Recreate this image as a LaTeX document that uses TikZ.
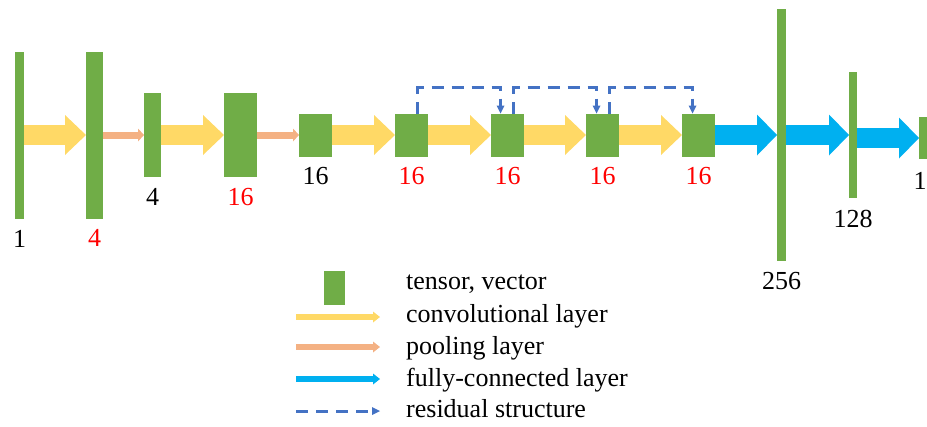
\documentclass[tikz,border=0pt]{standalone}
\usepackage{fontspec}
\setmainfont{Liberation Serif}
\definecolor{verde}{RGB}{112,173,71}
\definecolor{amarillo}{RGB}{255,217,102}
\definecolor{salmon}{RGB}{244,177,131}
\definecolor{celeste}{RGB}{0,176,240}
\definecolor{azulres}{RGB}{68,114,196}
\usetikzlibrary{arrows.meta,positioning}

\begin{document}
\begin{tikzpicture}[
  x=1pt, y=1pt,
  every node/.style={font=\fontsize{26}{31}\selectfont\rmfamily},
  tensor/.style={
    rectangle, fill=verde,
    inner sep=0pt, outer sep=0pt},
  dim/.style={inner sep=0pt},
  dimrojo/.style={dim, text=red},
  texto/.style={inner sep=0pt, anchor=base west},
  conv/.style={
    draw=amarillo, line width=20pt,
    -{Triangle[length=21pt,width=40pt,line width=0pt]}},
  pool/.style={
    draw=salmon, line width=7pt,
    -{Triangle[length=6pt,width=13pt,line width=0pt]}},
  fc/.style={
    draw=celeste, line width=20pt,
    -{Triangle[length=20pt,width=41pt,line width=0pt]}},
  resid/.style={
    draw=azulres, line width=3pt,
    dash pattern=on 12pt off 8pt,
    -{Triangle[length=8pt,width=8pt,line width=0pt]}},
  leyenda/.style={
    line width=6pt,
    -{Triangle[length=7pt,width=11pt,line width=0pt]}}
]
  \useasboundingbox (0,0) rectangle (927,-426);

  %% -- Tensores -------------------------------------------------
  \node[tensor, minimum width=9pt, minimum height=167pt] (T1) at (19.5,-135) {};
  \node[tensor, minimum width=17pt, minimum height=167pt, right=62pt of T1] (T2) {};
  \node[tensor, minimum width=17pt, minimum height=84pt, right=41pt of T2] (T3) {};
  \node[tensor, minimum width=33pt, minimum height=84pt, right=63pt of T3] (T4) {};
  \node[tensor, minimum width=33pt, minimum height=43pt, right=42pt of T4] (T5) {};
  \node[tensor, minimum width=33pt, minimum height=43pt, right=63pt of T5] (T6) {};
  \node[tensor, minimum width=33pt, minimum height=43pt, right=63pt of T6] (T7) {};
  \node[tensor, minimum width=33pt, minimum height=43pt, right=62pt of T7] (T8) {};
  \node[tensor, minimum width=33pt, minimum height=43pt, right=63pt of T8] (T9) {};
  \node[tensor, minimum width=9pt, minimum height=252pt, right=62pt of T9] (T10) {};
  \node[tensor, minimum width=8pt, minimum height=126pt, right=63pt of T10] (T11) {};
  \node[tensor, minimum width=8pt, minimum height=42pt, right=62pt of T11, yshift=-3pt] (T12) {};

  %% -- Dimensiones ----------------------------------------------
  \node[dim, below=12pt of T1] {1};
  \node[dimrojo, below=11pt of T2] {4};
  \node[dim, below=11pt of T3] {4};
  \node[dimrojo, below=11pt of T4] {16};
  \node[dim, below=11pt of T5] {16};
  \node[dimrojo, below=11pt of T6] {16};
  \node[dimrojo, below=11pt of T7] {16};
  \node[dimrojo, below=11pt of T8] {16};
  \node[dimrojo, below=11pt of T9] {16};
  \node[dim, below=11pt of T10] {256};
  \node[dim, below=12pt of T11] {128};
  \node[dim, below=13pt of T12, xshift=-3pt] {1};

  %% -- Capas ----------------------------------------------------
  \draw[conv] (T1) -- (T2);
  \draw[pool] (T2) -- (T3);
  \draw[conv] (T3) -- (T4);
  \draw[pool] (T4) -- (T5);
  \draw[conv] (T5) -- (T6);
  \draw[conv] (T6) -- (T7);
  \draw[conv] (T7) -- (T8);
  \draw[conv] (T8) -- (T9);
  \draw[fc] (T9) -- (T10);
  \draw[fc] (T10) -- (T11);
  \draw[fc] (T11.east |- T12) -- (T12.west);

  %% -- Estructura residual --------------------------------------
  \draw[resid] ([xshift=6pt]T6.north) -- ++(0,26) -| ([xshift=-7pt]T7.north);
  \draw[resid] ([xshift=6pt]T7.north) -- ++(0,26) -| ([xshift=-6pt]T8.north);
  \draw[resid] ([xshift=7pt]T8.north) -- ++(0,26) -| ([xshift=-6pt]T9.north);

  %% -- Leyenda --------------------------------------------------
  \node[tensor, minimum width=21pt, minimum height=34pt] (Ltens) at (334.5,-288) {};
  \node[texto] (Lt) at (406,-289) {tensor, vector};
  \node[texto] (Lc) at (406,-322) {convolutional layer};
  \node[texto] (Lp) at (406,-354) {pooling layer};
  \node[texto] (Lf) at (406,-386) {fully-connected layer};
  \node[texto] (Lr) at (406,-417) {residual structure};

  \draw[leyenda, draw=amarillo]
    ([xshift=-110pt,yshift=5pt]Lc.base west) -- ([xshift=-26pt,yshift=5pt]Lc.base west);
  \draw[leyenda, draw=salmon]
    ([xshift=-110pt,yshift=7pt]Lp.base west) -- ([xshift=-26pt,yshift=7pt]Lp.base west);
  \draw[leyenda, draw=celeste]
    ([xshift=-110pt,yshift=7pt]Lf.base west) -- ([xshift=-26pt,yshift=7pt]Lf.base west);
  \draw[resid]
    ([xshift=-110pt,yshift=6pt]Lr.base west) -- ([xshift=-26pt,yshift=6pt]Lr.base west);

\end{tikzpicture}
\end{document}
